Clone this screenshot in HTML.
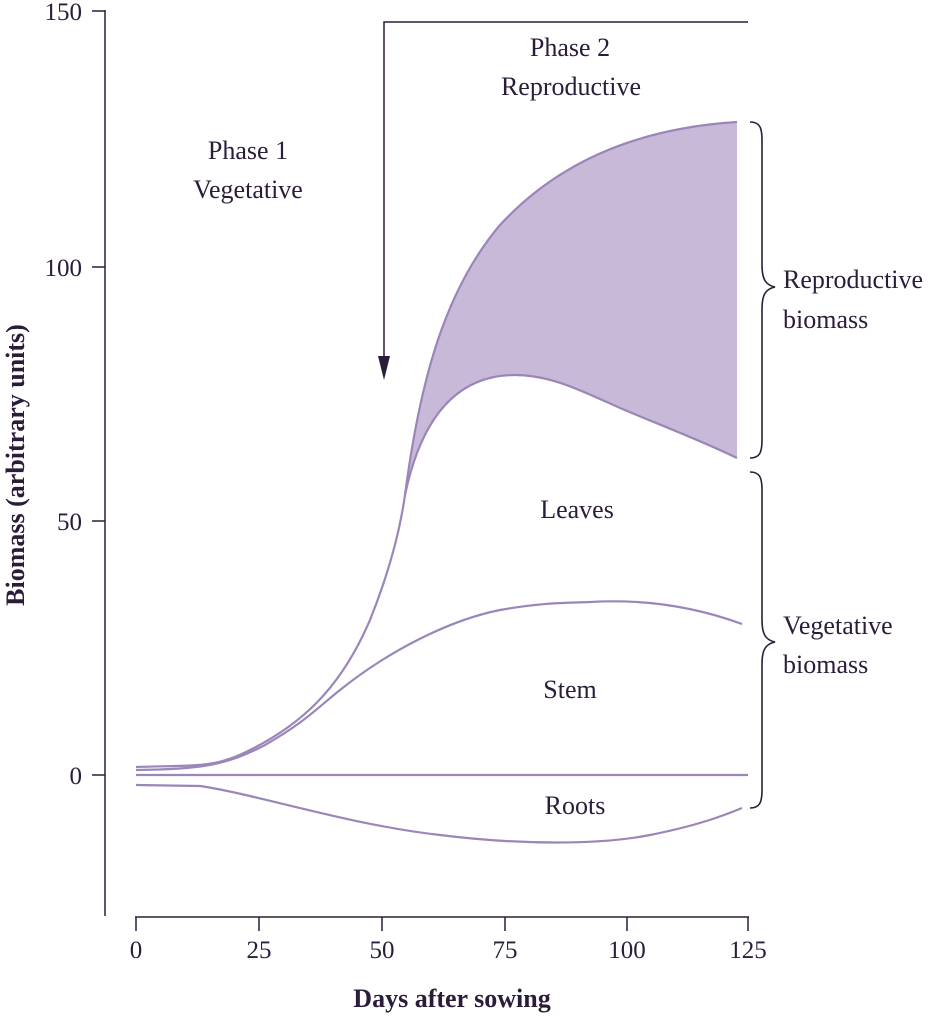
<!DOCTYPE html>
<html><head><meta charset="utf-8"><style>
html,body{margin:0;padding:0;background:#fff;}
svg{display:block;}
text{font-family:"Liberation Serif",serif;fill:#2b1d3a;}
</style></head><body>
<svg width="948" height="1017" viewBox="0 0 948 1017" xmlns="http://www.w3.org/2000/svg">
<g stroke="#2b1d3a" stroke-width="1.5" fill="none">
<line x1="105" y1="10" x2="105" y2="916"/>
<line x1="92" y1="11" x2="105" y2="11"/>
<line x1="92" y1="267" x2="105" y2="267"/>
<line x1="92" y1="521" x2="105" y2="521"/>
<line x1="92" y1="775" x2="105" y2="775"/>
<line x1="135" y1="917" x2="749" y2="917"/>
<line x1="136" y1="917" x2="136" y2="931"/>
<line x1="259" y1="917" x2="259" y2="931"/>
<line x1="382" y1="917" x2="382" y2="931"/>
<line x1="505" y1="917" x2="505" y2="931"/>
<line x1="627" y1="917" x2="627" y2="931"/>
<line x1="748" y1="917" x2="748" y2="931"/>
<polyline points="748,22 384,22 384,362"/>
</g>
<polygon points="378,356 390,356 384,380" fill="#2b1d3a"/>
<g font-size="25" text-anchor="end">
<text x="82" y="20">150</text><text x="82" y="276">100</text><text x="82" y="530">50</text><text x="82" y="784">0</text>
</g>
<g font-size="25" text-anchor="middle">
<text x="136" y="958">0</text><text x="259" y="958">25</text><text x="382" y="958">50</text><text x="505" y="958">75</text><text x="627" y="958">100</text><text x="748" y="958">125</text>
</g>
<text x="452" y="1007" font-size="26" font-weight="bold" text-anchor="middle">Days after sowing</text>
<text transform="translate(24,465) rotate(-90)" font-size="26" font-weight="bold" text-anchor="middle">Biomass (arbitrary units)</text>
<path d="M405,495 C420,380 445,290 500,225 C560,160 640,128 737,122 L737,458 C700,440 660,425 620,408 C580,390 550,375 515,375 C470,375 425,400 405,495 Z" fill="#c9b9d9" stroke="none"/>
<g stroke="#9a86b8" stroke-width="2.2" fill="none">
<path d="M136,767 C200,765 215,768 250,750 C300,725 340,690 370,620 C390,570 400,530 405,495 C420,380 445,290 500,225 C560,160 640,128 737,122"/>
<path d="M405,495 C425,400 470,375 515,375 C550,375 580,390 620,408 C660,425 700,440 737,458"/>
<path d="M136,770 C200,769 225,766 265,745 C305,722 315,710 340,690 C390,650 450,620 500,610 C540,603 560,603 590,602 C640,599 690,605 742,624"/>
<line x1="136" y1="775" x2="748" y2="775"/>
<path d="M136,785 L200,786 C260,795 350,825 440,835 C520,845 600,845 650,835 C700,825 725,815 742,808"/>
</g>
<g stroke="#2b1d3a" stroke-width="1.6" fill="none">
<path d="M750,122 C760,122 762,128 762,140 L762,265 C762,280 766,285 775,287 C766,289 762,294 762,309 L762,440 C762,452 760,458 750,458"/>
<path d="M750,472 C760,472 762,478 762,490 L762,620 C762,635 766,640 775,642 C766,644 762,649 762,664 L762,790 C762,802 760,808 750,808"/>
</g>
<g font-size="26" text-anchor="middle">
<text x="570" y="56">Phase 2</text><text x="571" y="95">Reproductive</text>
<text x="248" y="159">Phase 1</text><text x="248" y="198">Vegetative</text>
<text x="577" y="518">Leaves</text><text x="570" y="698">Stem</text><text x="575" y="814">Roots</text>
</g>
<g font-size="26">
<text x="783" y="288">Reproductive</text><text x="783" y="328">biomass</text>
<text x="783" y="634">Vegetative</text><text x="783" y="673">biomass</text>
</g>
</svg>
</body></html>
